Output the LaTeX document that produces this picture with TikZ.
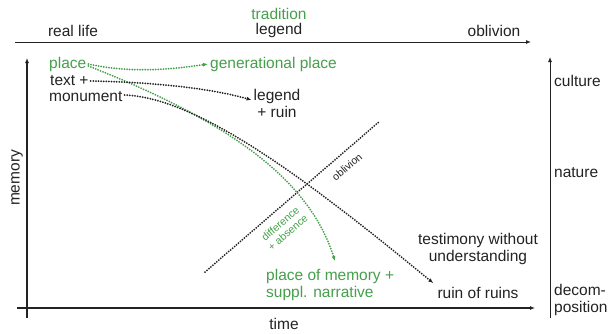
\documentclass[tikz,border=0pt]{standalone}
\usepackage{fontspec}
\setmainfont{Liberation Sans}
\usetikzlibrary{arrows.meta,calc}
\definecolor{grn}{RGB}{70,160,75}
\definecolor{ink}{RGB}{35,35,35}
\begin{document}
\begin{tikzpicture}[x=1pt,y=-1pt,
  lbl/.style={font=\fontsize{15.5}{17}\selectfont, text=ink, inner sep=0pt, align=center},
  glbl/.style={lbl, text=grn},
  small/.style={font=\fontsize{10.5}{11.5}\selectfont, inner sep=0pt, align=center},
  dots/.style={line width=2pt, line cap=round, dash pattern=on 0pt off 2.6pt},
  tip/.style={-{Latex[length=5pt,width=4pt]}},
  axis/.style={draw=ink, -{Latex[length=5pt,width=4pt]}}]
\useasboundingbox[fill=white] (0,0) rectangle (614,333);
% axes
\coordinate (tl) at (15,42); \coordinate (tr) at (531,42);
\draw[axis, line width=0.9pt] (tl) -- (tr);
\coordinate (lb) at (27,318); \coordinate (lt) at (27,58);
\draw[axis, line width=1.6pt] (lb) -- (lt);
\coordinate (bl) at (17,308); \coordinate (br) at (535,308);
\draw[axis, line width=1.6pt] (bl) -- (br);
\coordinate (rb) at (550,318); \coordinate (rt) at (550,57);
\draw[axis, line width=0.8pt] (rb) -- (rt);
% top labels
\node[lbl] (reallife) at (73,31) {real life};
\node[glbl] (trad) at (279,14) {tradition};
\node[lbl] (legtop) at (279,30) {legend};
\node[lbl] (obl) at (494,31) {oblivion};
% left labels
\node[glbl, anchor=west] (place) at (49,64) {place};
\node[lbl, anchor=west] (textp) at (50,81) {text +};
\node[lbl, anchor=west] (monu) at (49,97) {monument};
\node[lbl, rotate=90] (mem) at (17,178) {memory};
% middle labels
\node[glbl, anchor=west] (gen) at (210,64) {generational place};
\node[lbl] (legr) at (277,103) {legend\\+ ruin};
\node[lbl] (testi) at (478,249) {testimony without\\understanding};
\node[lbl] (ruins) at (478,293) {ruin of ruins};
\node[glbl, align=left, anchor=west] (pom) at (266,285) {place of memory +\\suppl. narrative};
\node[lbl] (time) at (284,324) {time};
% right labels
\node[lbl, anchor=west] (cult) at (554,81) {culture};
\node[lbl, anchor=west] (nat) at (554,173) {nature};
\node[lbl, align=left, anchor=west] (dec) at (554,300) {decom-\\position};
% oblivion line
\coordinate (o1) at (205,272); \coordinate (o2) at (380,121);
\draw[ink, dots] (o1) -- (o2);
\node[small, text=ink, rotate=40.8] (obll) at (347,167) {oblivion};
\node[small, text=grn, rotate=40.8] (diff) at (284,228) {difference\\+ absence};
% connectors
\draw[grn, dots, tip] ($(place.east)+(2,0)$) .. controls +(40,9) and +(-40,6) .. ($(gen.west)+(-2,0)$);
\draw[grn, dots, tip] ($(place.east)+(2,2)$) .. controls (220,118) and (308,175) .. ($(pom.north west)+(69,-8)$);
\draw[ink, dots, tip] ($(textp.east)+(2,0)$) .. controls (150,82) and (210,88) .. ($(legr.west)+(-2,-3)$);
\draw[ink, dots, tip] ($(monu.east)+(2,-2)$) .. controls (200,98) and (310,182) .. ($(ruins.north west)+(-4,-4)$);
\end{tikzpicture}
\end{document}
